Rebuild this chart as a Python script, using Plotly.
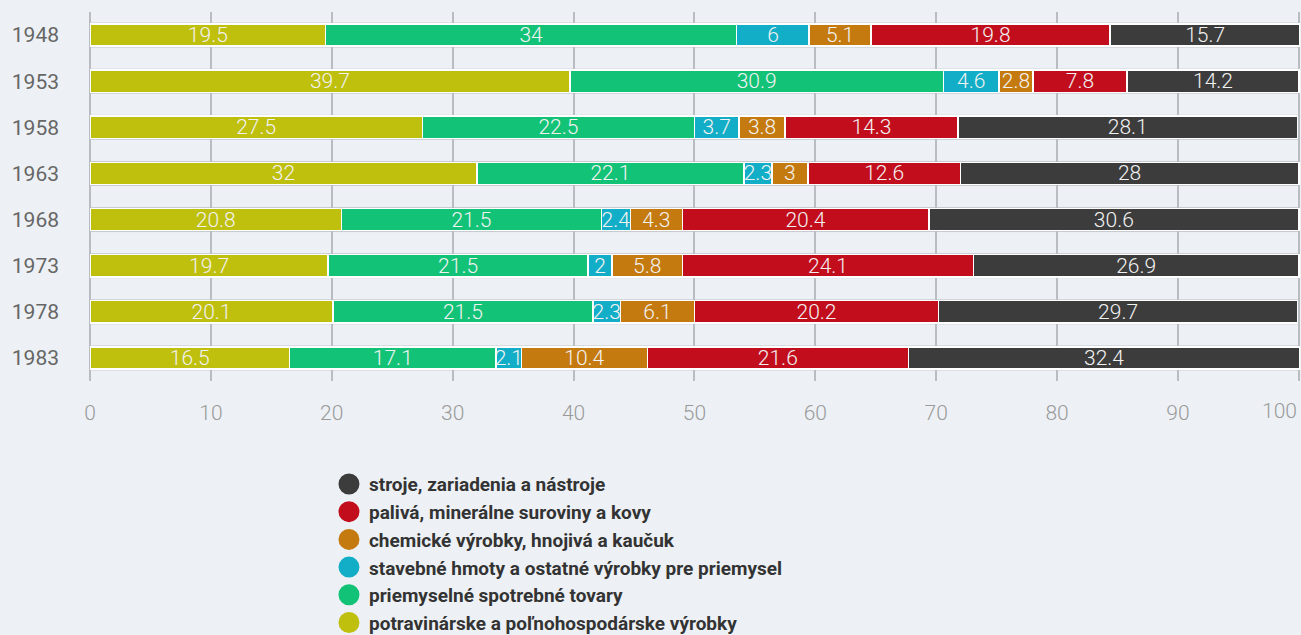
import plotly.graph_objects as go

years = ["1948", "1953", "1958", "1963", "1968", "1973", "1978", "1983"]
potravinarske = [19.5, 39.7, 27.5, 32, 20.8, 19.7, 20.1, 16.5]
priemyselne = [34, 30.9, 22.5, 22.1, 21.5, 21.5, 21.5, 17.1]
stavebne = [6, 4.6, 3.7, 2.3, 2.4, 2, 2.3, 2.1]
chemicke = [5.1, 2.8, 3.8, 3, 4.3, 5.8, 6.1, 10.4]
paliva = [19.8, 7.8, 14.3, 12.6, 20.4, 24.1, 20.2, 21.6]
stroje = [15.7, 14.2, 28.1, 28, 30.6, 26.9, 29.7, 32.4]
x_ticks = [0, 10, 20, 30, 40, 50, 60, 70, 80, 90, 100]

series = [
    ("potravinárske a poľnohospodárske výrobky", potravinarske, "#bfbf0e"),
    ("priemyselné spotrebné tovary", priemyselne, "#12c276"),
    ("stavebné hmoty a ostatné výrobky pre priemysel", stavebne, "#12adc6"),
    ("chemické výrobky, hnojivá a kaučuk", chemicke, "#c47a0e"),
    ("palivá, minerálne suroviny a kovy", paliva, "#c20d1c"),
    ("stroje, zariadenia a nástroje", stroje, "#3c3c3c"),
]

BARGAP = 0.52
fig = go.Figure()
for name, vals, col in series:
    fig.add_trace(go.Bar(
        y=years, x=vals, orientation="h", name=name,
        marker=dict(color=col, line=dict(color="#ffffff", width=1.5)),
        text=[str(v) for v in vals], textposition="inside",
        insidetextanchor="middle", textangle=0, constraintext="none",
        textfont=dict(family="Roboto", size=21, color="#f2f2f2", weight=300),
        showlegend=False, hoverinfo="skip", cliponaxis=False,
    ))
for name, vals, col in reversed(series):
    fig.add_trace(go.Scatter(
        x=[None], y=[None], mode="markers", name=name,
        marker=dict(color=col, size=16, symbol="circle",
                    line=dict(color=col, width=5)),
        showlegend=True,
    ))

# light grey outline around each row (bar shadow)
half = (1 - BARGAP) / 2 + 0.02
for i, _ in enumerate(years):
    fig.add_shape(type="rect", xref="x", yref="y", x0=0, x1=x_ticks[-1],
                  y0=i - half, y1=i + half, layer="below",
                  line=dict(color="#c5c9ce", width=1), fillcolor="#f4f6f8")

fig.add_annotation(x=x_ticks[-1], y=0, xref="x", yref="paper", yshift=-30,
                   xanchor="right", yanchor="middle", showarrow=False,
                   text=str(x_ticks[-1]),
                   font=dict(family="Roboto", size=21, color="#9a9a9a", weight=300))

fig.update_layout(
    width=1301, height=635,
    barmode="stack", bargap=BARGAP,
    paper_bgcolor="#edf1f5", plot_bgcolor="#edf1f5",
    margin=dict(l=90, r=1, t=12, b=254, autoexpand=False),
    font=dict(family="Roboto"),
    xaxis=dict(range=[0, 100.1], tickvals=x_ticks,
               ticktext=[str(t) for t in x_ticks[:-1]] + [""],
               showgrid=True, gridcolor="#b9bdc2", gridwidth=2, zeroline=True,
               zerolinecolor="#b9bdc2", zerolinewidth=2,
               tickfont=dict(size=21, color="#9a9a9a", weight=300),
               ticklabelstandoff=17, fixedrange=True),
    yaxis=dict(type="category", autorange="reversed", showgrid=False,
               tickfont=dict(size=21, color="#666666"),
               ticklabelstandoff=30, fixedrange=True),
    legend=dict(x=0.1975, y=-0.228, xanchor="left", yanchor="top",
                orientation="v", bgcolor="rgba(0,0,0,0)", traceorder="normal",
                font=dict(size=19, color="#333333", weight=700),
                itemsizing="trace", tracegroupgap=0),
)
fig.write_html("out.html", config={"displayModeBar": False},
               post_script="document.body.style.margin='0px';")
